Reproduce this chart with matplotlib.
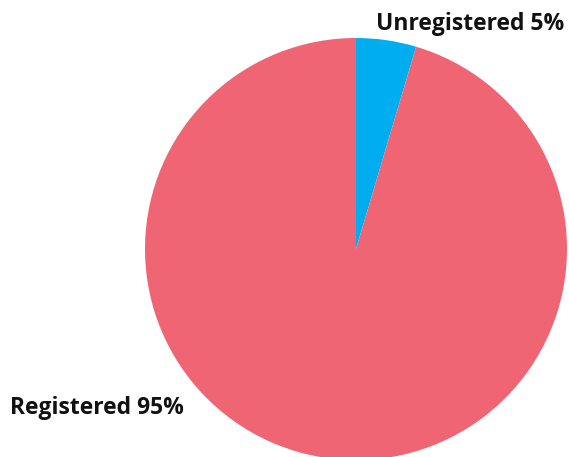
import matplotlib.pyplot as plt

labels = ["Unregistered", "Registered"]
shares = [4.6, 95.4]
colors = ["#00AEEF", "#EF6574"]

W, H = 569, 457
fig = plt.figure(figsize=(W / 100, H / 100), dpi=100)

# pie centred at (356, 249) px from top-left, radius 211 px
cx, cy, r = 356, 249, 211
ax = fig.add_axes([(cx - r) / W, (H - cy - r) / H, 2 * r / W, 2 * r / H])
ax.pie(shares, colors=colors, startangle=90, counterclock=False, radius=1,
       wedgeprops=dict(linewidth=0))
ax.set_xlim(-1, 1)
ax.set_ylim(-1, 1)
ax.set_aspect("equal")
ax.axis("off")

font = dict(family="Open Sans", weight="bold", size=16.5, color="#111111", va="baseline")
fig.text(376 / W, 1 - 30 / H, f"{labels[0]} {shares[0]:.0f}%", ha="left", **font)
fig.text(10 / W, 1 - 414 / H, f"{labels[1]} {shares[1]:.0f}%", ha="left", **font)

fig.savefig("out.png", dpi=100)
